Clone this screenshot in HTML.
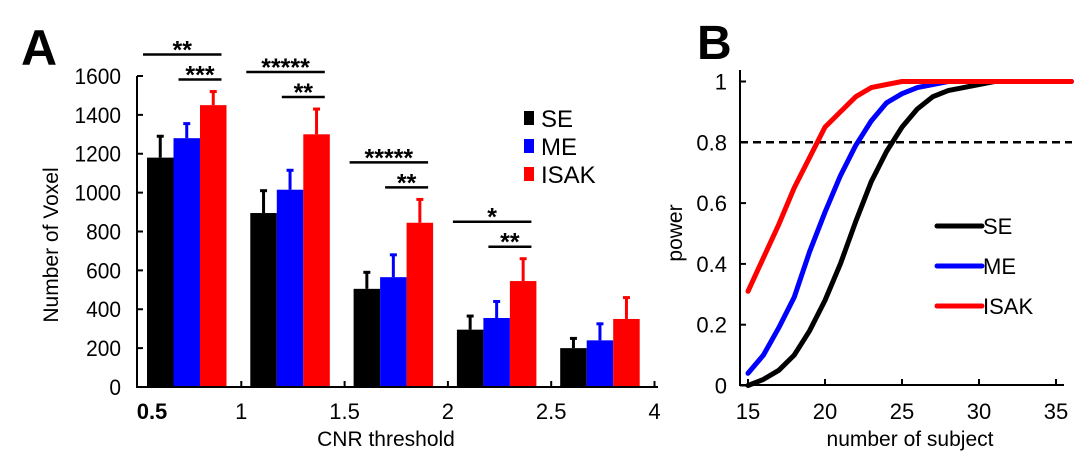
<!DOCTYPE html>
<html><head><meta charset="utf-8"><style>
body{margin:0;background:#fff}
svg text{font-family:"Liberation Sans",Arial,sans-serif}
</style></head><body>
<svg width="1090" height="461" viewBox="0 0 1090 461">
<g id="A"></g>
<g id="B"></g>
</svg>
<script>
const NS="http://www.w3.org/2000/svg";
// Panel A data
const groupLabels=["0.5","1","1.5","2","2.5","4"];
const seriesNames=["SE","ME","ISAK"];
const seVals=[1180,895,505,295,200];
const meVals=[1280,1015,565,355,240];
const isakVals=[1450,1300,845,545,350];
const seErr=[1290,1010,590,365,250];
const meErr=[1355,1115,680,440,325];
const isakErr=[1520,1430,965,660,460];
const yTicksA=[0,200,400,600,800,1000,1200,1400,1600];
const sigOuter=["**","*****","*****","*"];
const sigInner=["***","**","**","**"];
// Panel B data
const subjects=[15,16,17,18,19,20,21,22,23,24,25,26,27,28,29,30,31,32,33,34,35,36];
const powSE=[0,0.02,0.05,0.1,0.18,0.28,0.4,0.54,0.67,0.77,0.85,0.91,0.95,0.97,0.98,0.99,1,1,1,1,1,1];
const powME=[0.04,0.1,0.19,0.29,0.44,0.57,0.69,0.79,0.87,0.93,0.96,0.98,0.99,1,1,1,1,1,1,1,1,1];
const powISAK=[0.31,0.42,0.53,0.65,0.75,0.85,0.9,0.95,0.98,0.99,1,1,1,1,1,1,1,1,1,1,1,1];
const xTicksB=[15,20,25,30,35];
const yTicksB=[0,0.2,0.4,0.6,0.8,1];
const threshold=0.8;

function el(p,tag,a,txt){const e=document.createElementNS(NS,tag);for(const k in a)e.setAttribute(k,a[k]);if(txt!==undefined)e.textContent=txt;p.appendChild(e);return e;}
const colors=["#000","#0000ff","#ff0000"];

// ---- Panel A
const A=document.getElementById('A');
const yA=v=>387-v*0.19438;
const gx=i=>147+i*103.3;
const bw=26.5;
const vals=[seVals,meVals,isakVals], errs=[seErr,meErr,isakErr];
let t=el(A,'text',{x:21,y:65,'font-size':50,'font-weight':'bold'},'A');

for(let s=0;s<3;s++){for(let i=0;i<seVals.length;i++){
 const x=gx(i)+s*bw;
 let e=el(A,'line',{x1:x+bw/2,x2:x+bw/2,y1:yA(vals[s][i]),y2:yA(errs[s][i]),stroke:colors[s],'stroke-width':3});
 
 e=el(A,'line',{x1:x+bw/2-3.5,x2:x+bw/2+3.5,y1:yA(errs[s][i]),y2:yA(errs[s][i]),stroke:colors[s],'stroke-width':3});
 
 e=el(A,'rect',{x:x,y:yA(vals[s][i]),width:bw,height:yA(0)-yA(vals[s][i]),fill:colors[s]});
 
}}
let ax=el(A,'path',{d:'M137,76 V387 H658',fill:'none',stroke:'#000','stroke-width':2});

yTicksA.forEach(v=>{
 el(A,'line',{x1:137,x2:143,y1:yA(v),y2:yA(v),stroke:'#000','stroke-width':2});
 const e=el(A,'text',{x:121,y:yA(v)+8,'font-size':22,'text-anchor':'end',transform:`translate(121,0) scale(0.95,1) translate(-121,0)`},v);
 
});
for(let i=0;i<groupLabels.length;i++){
 const tx=i==0?152:gx(i)-9;
 if(i>0)el(A,'line',{x1:tx,x2:tx,y1:387,y2:381,stroke:'#000','stroke-width':2});
 const e=el(A,'text',{x:tx,y:419,'font-size':22,'text-anchor':'middle','font-weight':i==0?'bold':'normal'},groupLabels[i]);
 
}
t=el(A,'text',{x:386,y:446,'font-size':21,'text-anchor':'middle'},'CNR threshold');

t=el(A,'text',{x:0,y:0,'font-size':21,'text-anchor':'middle',transform:'translate(58,245) rotate(-90)'},'Number of Voxel');

for(let i=0;i<4;i++){
 const top=Math.max(errs[0][i],errs[1][i],errs[2][i]);
 const yi=yA(top)-12, yo=yi-25;
 const x0=gx(i)-4, xm=gx(i)+bw+5, x1=gx(i)+3*bw-5;
 let e=el(A,'line',{x1:x0,x2:x1,y1:yo,y2:yo,stroke:'#000','stroke-width':2.5});
 
 e=el(A,'text',{x:(x0+x1)/2,y:yo+4,'font-size':25,'font-weight':'bold','text-anchor':'middle'},sigOuter[i]);
 
 e=el(A,'line',{x1:xm,x2:x1,y1:yi,y2:yi,stroke:'#000','stroke-width':2.5});
 
 e=el(A,'text',{x:(xm+x1)/2,y:yi+4,'font-size':25,'font-weight':'bold','text-anchor':'middle'},sigInner[i]);
 
}
seriesNames.forEach((n,s)=>{
 const y=118+s*28;
 let e=el(A,'rect',{x:524,y:y-7,width:10,height:14,fill:colors[s]});
 
 e=el(A,'text',{x:541,y:y+9,'font-size':24},n);
 
});

// ---- Panel B
const B=document.getElementById('B');
const xB=n=>748+(n-15)*15.4;
const yB=p=>385.5-p*304;
t=el(B,'text',{x:697,y:59,'font-size':48,'font-weight':'bold'},'B');

let dl=el(B,'line',{x1:740,x2:1072,y1:yB(threshold),y2:yB(threshold),stroke:'#000','stroke-width':2.5,'stroke-dasharray':'8,5'});

[powSE,powME,powISAK].forEach((arr,s)=>{
 const d=arr.map((p,i)=>(i?'L':'M')+xB(subjects[i]).toFixed(1)+','+yB(p).toFixed(1)).join(' ');
 const e=el(B,'path',{d:d,fill:'none',stroke:colors[s],'stroke-width':5,'stroke-linejoin':'round','stroke-linecap':'round'});
 
});
ax=el(B,'path',{d:'M740,70 V385 H1064',fill:'none',stroke:'#000','stroke-width':2});

yTicksB.forEach(v=>{
 el(B,'line',{x1:740,x2:746,y1:yB(v),y2:yB(v),stroke:'#000','stroke-width':2});
 const e=el(B,'text',{x:727,y:yB(v)+8,'font-size':22,'text-anchor':'end'},v);
 
});
xTicksB.forEach(v=>{
 el(B,'line',{x1:xB(v),x2:xB(v),y1:385,y2:379,stroke:'#000','stroke-width':2});
 const e=el(B,'text',{x:xB(v),y:419,'font-size':22,'text-anchor':'middle'},v);
 
});
t=el(B,'text',{x:910,y:446,'font-size':21,'text-anchor':'middle'},'number of subject');

t=el(B,'text',{x:0,y:0,'font-size':21,'text-anchor':'middle',transform:'translate(682,233) rotate(-90)'},'power');

seriesNames.forEach((n,s)=>{
 const y=226+s*40;
 let e=el(B,'line',{x1:937,x2:982,y1:y,y2:y,stroke:colors[s],'stroke-width':5,'stroke-linecap':'round'});
 
 e=el(B,'text',{x:983,y:y+8,'font-size':22},n);
 
});
</script>
</body></html>
